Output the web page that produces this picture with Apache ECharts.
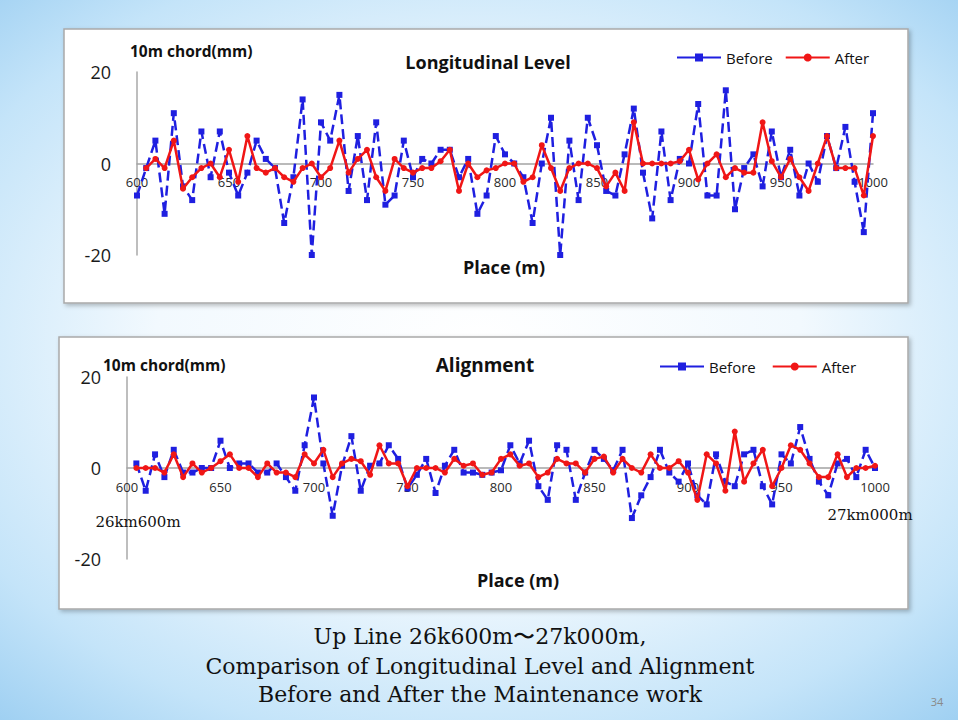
<!DOCTYPE html>
<html>
<head>
<meta charset="utf-8">
<title>Longitudinal Level and Alignment</title>
<script src="https://cdn.jsdelivr.net/npm/echarts@6/dist/echarts.min.js"></script>
<style>
  html, body { margin: 0; padding: 0; }
  body {
    width: 958px; height: 720px; overflow: hidden;
    background: radial-gradient(ellipse 75% 70% at 50% 48%, #ffffff 0%, #f2f9fe 45%, #c4e4f9 80%, #9fd0f2 100%);
  }
  #chart { width: 958px; height: 720px; }
</style>
</head>
<body>
<div id="chart"></div>
<script>
// place along the line (m), one point every 5 m
var places = [600, 605, 610, 615, 620, 625, 630, 635, 640, 645,
  650, 655, 660, 665, 670, 675, 680, 685, 690, 695,
  700, 705, 710, 715, 720, 725, 730, 735, 740, 745,
  750, 755, 760, 765, 770, 775, 780, 785, 790, 795,
  800, 805, 810, 815, 820, 825, 830, 835, 840, 845,
  850, 855, 860, 865, 870, 875, 880, 885, 890, 895,
  900, 905, 910, 915, 920, 925, 930, 935, 940, 945,
  950, 955, 960, 965, 970, 975, 980, 985, 990, 995,
  1000];

// Longitudinal level, 10m chord (mm)
var levelBefore = [-7, -1, 5, -11, 11, -5, -8, 7, -3, 7,
  -2, -7, -2, 5, 1, -1, -13, -3, 14, -20,
  9, 5, 15, -6, 6, -8, 9, -9, -7, 5,
  -3, 1, 0, 3, 3, -3, 1, -11, -7, 6,
  2, 0, -3, -13, 0, 10, -20, 5, -8, 10,
  4, -6, -7, 2, 12, -2, -12, 7, -8, 1,
  0, 13, -7, -7, 16, -10, -1, 2, -5, 7,
  -3, 3, -7, 0, -4, 6, -1, 8, -4, -15,
  11];
var levelAfter = [null, -1, 1, -1, 5, -5.5, -3, -1, 0, -3,
  3, -4, 6, -1, -2, -1, -3, -4, -1, 0,
  -3, -1, 5, -2, 1, 3, -3, -6, 1, -1,
  -2, -1, -1, 0.5, 3, -6, 0, -3, -1.5, -1,
  0, 0, -4, -3, 4, -1, -6, -1, 0, 0,
  -1, -5, -2, -6, 9, 0, 0, 0, 0, 0.5,
  3, -3.5, 0, 2, -3, -1, -2, -2, 9, 0.5,
  -3, 1, -3, -6, 0, 6, -1, -1, -1, -7,
  6];

// Alignment, 10m chord (mm)
var alignBefore = [null, 1, -5, 3, -2, 4, -1, -1, 0, 0,
  6, 0, 1, 1, -1, -1, 1, -2, -5, 5,
  15.5, 1, -10.5, 0.5, 7, -5, 0.5, 1, 5, 2,
  -4.5, -1.5, 2, -5.5, 0.5, 4, -1, -1, -1.5, -1,
  -0.5, 5, 1, 6, -4, -7, 5, 4, -7, -1,
  4, 2, -0.5, 4, -11, -6, -2, 4, -1, -3,
  1, -6, -8, 3, -3, -4, 3, 4, -4, -8,
  3, 1, 9, 2, -3, -6, 1, 2, -2, 4,
  0];
var alignAfter = [null, 0, 0, 0, -1, 3, -2, 1, -1, 0,
  1.5, 3, 0, 0, -2, 1, -1, -1, -2, 3,
  1, 4, -2, 1, 2, 1.5, -1.5, 5, 1, 1,
  -4, 0, 0, 0, -1, 2, 0.5, 1, -1.5, -1,
  2, 3, 0.5, 1, -2, -1, 2, 1, 1, -1,
  2, 2.5, -1, 2, 0, -1, 3, 0, 0, 1.5,
  -1, -7, 3, 1, -5, 8, -3, 1, 4, -4,
  0, 5, 4, 1, -2, -2, 3, -2, 0, 0,
  0.5];

var yTicks = [-20, 0, 20];
var xTicks = [600, 650, 700, 750, 800, 850, 900, 950, 1000];

var BLUE = '#1f1fe0';
var RED = '#f01616';
var SANS = '"Open Sans", "Noto Sans", sans-serif';
var SERIF = '"DejaVu Serif", "Liberation Serif", serif';

// grid boxes (px) – the x axis sits on the zero line, so it is shifted up by half the height
var grids = [
  { left: 137, right: 85, top: 72, bottom: 465 },
  { left: 127, right: 83, top: 377, bottom: 161 }
];

function pairs(vals) {
  return places.map(function (p, i) {
    return [p, vals[i] == null ? '-' : vals[i]];
  });
}

function xAxisFor(idx) {
  var h = 720 - grids[idx].top - grids[idx].bottom;
  return {
    type: 'value', gridIndex: idx,
    min: xTicks[0], max: xTicks[xTicks.length - 1], interval: 50,
    offset: -h / 2,
    axisLine: { onZero: false, lineStyle: { color: '#a3a3a3', width: 1.5 } },
    axisTick: { show: false },
    splitLine: { show: false },
    axisLabel: {
      fontSize: 13, color: '#2a2a2a', margin: 12, fontFamily: SANS,
      formatter: function (v) { return String(v); }
    }
  };
}

function yAxisFor(idx) {
  return {
    type: 'value', gridIndex: idx,
    min: yTicks[0], max: yTicks[2], interval: 20,
    axisLine: { show: true, lineStyle: { color: '#a8a8a8', width: 1.5 } },
    axisTick: { show: false },
    splitLine: { show: false },
    axisLabel: { fontSize: 18, color: '#1a1a1a', margin: 26, fontFamily: SANS }
  };
}

function beforeSeries(idx, vals) {
  return {
    name: 'Before', type: 'line', xAxisIndex: idx, yAxisIndex: idx,
    data: pairs(vals), symbol: 'rect', symbolSize: 6,
    lineStyle: { color: BLUE, width: 2.5, type: [10, 5] },
    itemStyle: { color: BLUE }, z: 3
  };
}

function afterSeries(idx, vals) {
  return {
    name: 'After', type: 'line', xAxisIndex: idx, yAxisIndex: idx,
    data: pairs(vals), symbol: 'circle', symbolSize: 6,
    lineStyle: { color: RED, width: 2.5 },
    itemStyle: { color: RED }, z: 4
  };
}

function legendAt(left, top, gap) {
  return {
    left: left, top: top, itemWidth: 44, itemHeight: 10, itemGap: gap,
    data: ['Before', 'After'],
    lineStyle: { type: 'solid' },
    textStyle: { fontSize: 15, color: '#111', fontFamily: SANS }
  };
}

function text(x, y, str, size, weight, family, align) {
  return {
    type: 'text', x: x, y: y, z: 5,
    style: {
      text: str, fontSize: size, fontWeight: weight, fontFamily: family,
      fill: '#111', textAlign: align || 'left', textVerticalAlign: 'middle'
    }
  };
}

function panel(x, y, w, h) {
  return {
    type: 'rect', z: -10,
    shape: { x: x, y: y, width: w, height: h },
    style: {
      fill: '#fff', stroke: '#a9a9a9', lineWidth: 1.5,
      shadowBlur: 4, shadowColor: 'rgba(0,0,0,0.25)', shadowOffsetX: 2, shadowOffsetY: 2
    }
  };
}

var chart = echarts.init(document.getElementById('chart'), null, { renderer: 'svg' });

chart.setOption({
  backgroundColor: 'transparent',
  animation: false,
  grid: grids,
  xAxis: [xAxisFor(0), xAxisFor(1)],
  yAxis: [yAxisFor(0), yAxisFor(1)],
  legend: [legendAt(671, 45, 12), legendAt(654, 354, 16)],
  series: [
    beforeSeries(0, levelBefore), afterSeries(0, levelAfter),
    beforeSeries(1, alignBefore), afterSeries(1, alignAfter)
  ],
  graphic: [
    panel(64, 29, 844, 274),
    panel(59, 337, 849, 272),
    text(130, 51, '10m chord(mm)', 15.5, 'bold', SANS),
    text(488, 62, 'Longitudinal Level', 18, 'bold', SANS, 'center'),
    text(504, 267, 'Place (m)', 18, 'bold', SANS, 'center'),
    text(103, 365, '10m chord(mm)', 15.5, 'bold', SANS),
    text(485, 365, 'Alignment', 19, 'bold', SANS, 'center'),
    text(518, 580, 'Place (m)', 18, 'bold', SANS, 'center'),
    text(138, 522, '26km600m', 15, 'normal', SERIF, 'center'),
    text(870, 515, '27km000m', 15, 'normal', SERIF, 'center'),
    text(480, 636, 'Up Line 26k600m\u301C27k000m,', 22, 'normal', SERIF, 'center'),
    text(480, 666, 'Comparison of Longitudinal Level and Alignment', 22, 'normal', SERIF, 'center'),
    text(480, 694, 'Before and After the Maintenance work', 22, 'normal', SERIF, 'center'),
    {
      type: 'text', x: 937, y: 701, z: 5,
      style: { text: '34', fontSize: 11, fill: '#8a8a8a', fontFamily: SANS, textAlign: 'center', textVerticalAlign: 'middle' }
    }
  ]
});
</script>
</body>
</html>
